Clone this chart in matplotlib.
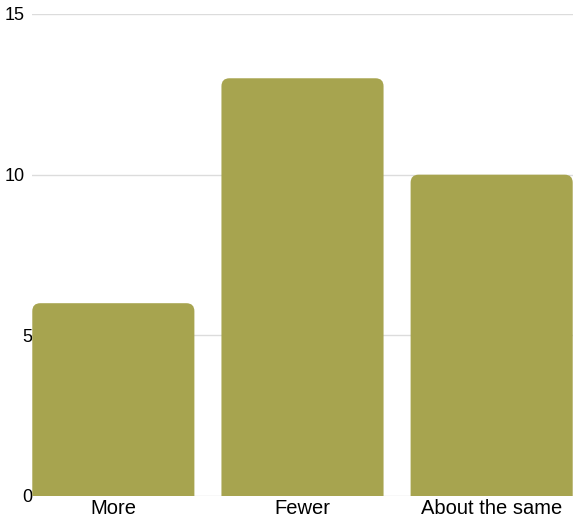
import matplotlib.pyplot as plt
from matplotlib.patches import FancyBboxPatch
from matplotlib.transforms import ScaledTranslation

categorias = ['More', 'Fewer', 'About the same']
valores = [6, 13, 10]
y_ticks = [0, 5, 10, 15]

plt.rcParams['font.family'] = ['Liberation Sans', 'DejaVu Sans']

fig = plt.figure(figsize=(5.73, 5.20), dpi=100)
ax = fig.add_axes([32 / 573, 24 / 520, 541 / 573, 482 / 520])

x = list(range(len(categorias)))
ancho = 0.857
barras = ax.bar(x, valores, width=ancho, color='none', zorder=1)

ax.set_xlim(-0.43, 2.43)
ax.set_ylim(0, 15)

# esquinas redondeadas: pasar el radio de px a unidades de datos
px_x = 1 / 189.0
px_y = 15 / 482.0
radio = 8 * px_x
aspecto = px_y / px_x
for b in barras:
    bx, by = b.get_x(), b.get_y()
    w, h = b.get_width(), b.get_height()
    extra = 10 * px_y  # se extiende bajo cero para esconder las esquinas de abajo
    p = FancyBboxPatch((bx, by - extra), w, h + extra,
                       boxstyle=f'round,pad=0,rounding_size={radio}',
                       mutation_aspect=aspecto,
                       facecolor='#a7a44f', edgecolor='none', zorder=2)
    ax.add_patch(p)

ax.set_yticks(y_ticks)
ax.set_yticklabels([str(t) for t in y_ticks])
ax.set_xticks(x)
ax.set_xticklabels(categorias)
ax.tick_params(axis='y', length=0, pad=0, labelsize=13, colors='black')
ax.tick_params(axis='x', length=0, pad=2, labelsize=14.5, colors='black')

# las etiquetas de dos cifras quedan algo mas a la izquierda
for lab in ax.get_yticklabels():
    if len(lab.get_text()) > 1:
        lab.set_transform(lab.get_transform() + ScaledTranslation(-7 / 100, 0, fig.dpi_scale_trans))

ax.grid(axis='y', color='#dcdcdc', linewidth=1, zorder=0)
ax.set_axisbelow(True)
for s in ax.spines.values():
    s.set_visible(False)

fig.savefig('out.png', dpi=100)
